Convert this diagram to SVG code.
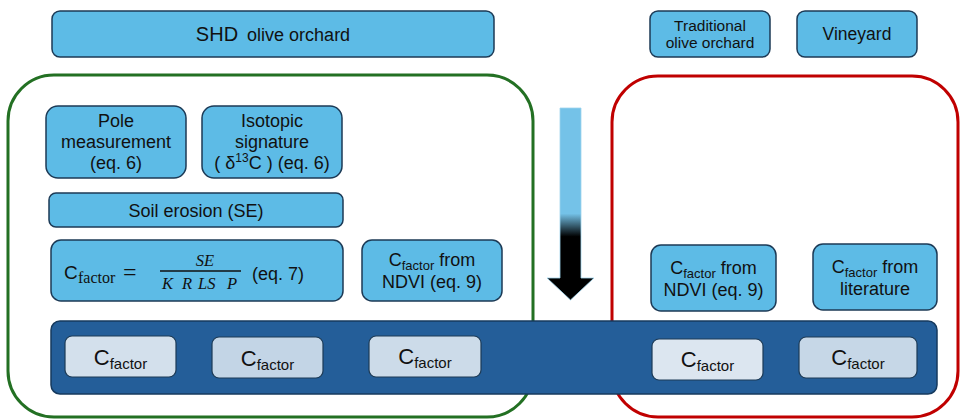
<svg xmlns="http://www.w3.org/2000/svg" width="961" height="419" viewBox="0 0 961 419" font-size="18">
<style>
  .box { fill: #5dbbe6; stroke: #1c3a56; stroke-width: 1.5; }
  .cf { stroke: #1c3a56; stroke-width: 1.2; }
  .t { font-family: "Liberation Sans", Arial, sans-serif; fill: #111; }
  .s { font-family: "Liberation Serif", "Times New Roman", serif; fill: #111; }
  .mid { text-anchor: middle; }
</style>
<defs>
  <linearGradient id="shaftGrad" gradientUnits="userSpaceOnUse" x1="0" y1="108" x2="0" y2="300">
    <stop offset="0" stop-color="#74c2e8"/>
    <stop offset="0.55" stop-color="#74c2e8"/>
    <stop offset="0.67" stop-color="#000"/>
    <stop offset="1" stop-color="#000"/>
  </linearGradient>
</defs>
<rect width="961" height="419" fill="#fff"/>

<g id="container-shd">
  <rect x="8" y="75" width="525" height="342" rx="46" fill="none" stroke="#237023" stroke-width="3"/>
</g>
<g id="container-other">
  <rect x="612" y="76" width="346" height="341" rx="46" fill="none" stroke="#c00000" stroke-width="3"/>
</g>

<g id="shd">
  <rect class="box" x="52" y="11" width="442" height="46" rx="8"/>
  <text class="t mid" x="273" y="41"><tspan font-size="20">SHD</tspan><tspan dx="9">olive orchard</tspan></text>
</g>
<g id="traditional">
  <rect class="box" x="650" y="11" width="120" height="46" rx="8"/>
  <text class="t mid" x="710" y="31" font-size="15.5">Traditional</text>
  <text class="t mid" x="710" y="48" font-size="15.5">olive orchard</text>
</g>
<g id="vineyard">
  <rect class="box" x="797" y="11" width="120" height="46" rx="8"/>
  <text class="t mid" x="857" y="40" font-size="17.5">Vineyard</text>
</g>

<g id="pole">
  <rect class="box" x="46" y="106" width="140" height="72" rx="12"/>
  <text class="t mid" x="116" y="127">Pole</text>
  <text class="t mid" x="116" y="148">measurement</text>
  <text class="t mid" x="116" y="169">(eq. 6)</text>
</g>
<g id="isotopic">
  <rect class="box" x="202" y="106" width="140" height="72" rx="12"/>
  <text class="t mid" x="272" y="127">Isotopic</text>
  <text class="t mid" x="272" y="148">signature</text>
  <text class="t mid" x="272" y="169">( δ<tspan font-size="12" dy="-7">13</tspan><tspan dy="7">C ) (eq. 6)</tspan></text>
</g>
<g id="soil-erosion">
  <rect class="box" x="49" y="193" width="294" height="34" rx="7"/>
  <text class="t mid" x="196" y="217">Soil erosion (SE)</text>
</g>
<g id="formula">
  <rect class="box" x="51" y="240" width="292" height="61" rx="10"/>
  <text class="t" x="64" y="279" font-size="19">C</text>
  <text class="s" x="78" y="283" font-size="16">factor</text>
  <text class="s" x="123" y="280" font-size="24">=</text>
  <text class="s mid" x="205" y="266" font-size="16.5" font-style="italic">SE</text>
  <line x1="160" y1="271" x2="241" y2="271" stroke="#111" stroke-width="1.3"/>
  <text class="s" x="162" y="289" font-size="16.5" font-style="italic">K</text>
  <text class="s" x="182" y="289" font-size="16.5" font-style="italic">R</text>
  <text class="s" x="198" y="289" font-size="16.5" font-style="italic">LS</text>
  <text class="s" x="227" y="289" font-size="16.5" font-style="italic">P</text>
  <text class="t" x="252" y="280">(eq. 7)</text>
</g>
<g id="ndvi-left">
  <rect class="box" x="362" y="240" width="140" height="61" rx="10"/>
  <text class="t mid" x="432" y="266">C<tspan font-size="13" dy="4">factor</tspan><tspan dy="-4"> from</tspan></text>
  <text class="t mid" x="432" y="288">NDVI (eq. 9)</text>
</g>
<g id="ndvi-right">
  <rect class="box" x="651" y="245" width="125" height="66" rx="10"/>
  <text class="t mid" x="713.5" y="274">C<tspan font-size="13" dy="4">factor</tspan><tspan dy="-4"> from</tspan></text>
  <text class="t mid" x="713.5" y="296">NDVI (eq. 9)</text>
</g>
<g id="literature">
  <rect class="box" x="813" y="244" width="124" height="66" rx="10"/>
  <text class="t mid" x="875" y="273">C<tspan font-size="13" dy="4">factor</tspan><tspan dy="-4"> from</tspan></text>
  <text class="t mid" x="875" y="295">literature</text>
</g>

<g id="connectors">
  <path d="M560,108 H581 V278 H594 L570.5,300 L547,278 H560 Z" fill="url(#shaftGrad)" stroke="#9fd4ee" stroke-width="0.8"/>
</g>

<g id="cfactor-bar">
  <rect x="51" y="321" width="886" height="73" rx="9" fill="#245e99" stroke="#163a5e" stroke-width="1.5"/>
</g>
<g id="cfactor-1">
  <rect class="cf" x="65" y="336" width="111" height="41" rx="7" fill="#d3e0ec"/>
  <text class="t mid" x="120.5" y="365" font-size="22">C<tspan font-size="15" dy="4">factor</tspan></text>
</g>
<g id="cfactor-2">
  <rect class="cf" x="212" y="337" width="111" height="41" rx="7" fill="#c3d5e6"/>
  <text class="t mid" x="267.5" y="366" font-size="22">C<tspan font-size="15" dy="4">factor</tspan></text>
</g>
<g id="cfactor-3">
  <rect class="cf" x="369" y="336" width="112" height="41" rx="7" fill="#ccdbe9"/>
  <text class="t mid" x="425" y="364" font-size="22">C<tspan font-size="15" dy="4">factor</tspan></text>
</g>
<g id="cfactor-4">
  <rect class="cf" x="652" y="339" width="111" height="41" rx="7" fill="#dce6f0"/>
  <text class="t mid" x="707.5" y="367" font-size="22">C<tspan font-size="15" dy="4">factor</tspan></text>
</g>
<g id="cfactor-5">
  <rect class="cf" x="799" y="337" width="118" height="41" rx="7" fill="#c6d7e7"/>
  <text class="t mid" x="858" y="365" font-size="22">C<tspan font-size="15" dy="4">factor</tspan></text>
</g>
</svg>
